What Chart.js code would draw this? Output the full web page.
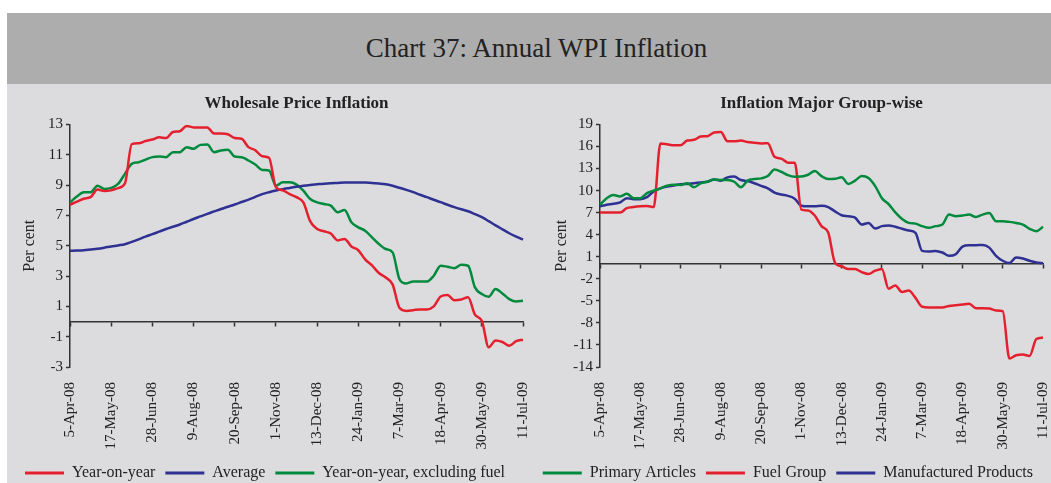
<!DOCTYPE html>
<html>
<head>
<meta charset="utf-8">
<title>Chart 37: Annual WPI Inflation</title>
<script src="https://cdn.jsdelivr.net/npm/chart.js@4.4.0/dist/chart.umd.min.js"></script>
<style>
    html, body { margin: 0; padding: 0; background: #ffffff; }
    body { width: 1051px; height: 483px; overflow: hidden; position: relative; font-family: "Liberation Serif", "Times New Roman", serif; }
    #panel { position: absolute; left: 7px; top: 13px; width: 1044px; height: 470px; background: #dcdcde; }
    #titlebar { position: absolute; left: 7px; top: 13px; width: 1029px; height: 71px; padding-left: 15px; background: #adadad; color: #222222; font-size: 27px; line-height: 71px; text-align: center; }
    .box { position: absolute; top: 84px; }
    #leftBox { left: 7px; }
    #rightBox { left: 530px; }
</style>
</head>
<body>
<div id="panel"></div>
<div id="titlebar">Chart 37: Annual WPI Inflation</div>
<div class="box" id="leftBox"><canvas id="wholesaleChart" width="523" height="407"></canvas></div>
<div class="box" id="rightBox"><canvas id="groupChart" width="521" height="407"></canvas></div>
<script>
// Weekly dates (week ended)
const weekLabels = [
    '5-Apr-08', '12-Apr-08', '19-Apr-08', '26-Apr-08', '3-May-08', '10-May-08', '17-May-08', '24-May-08', '31-May-08',
    '7-Jun-08', '14-Jun-08', '21-Jun-08', '28-Jun-08', '5-Jul-08', '12-Jul-08', '19-Jul-08', '26-Jul-08',
    '2-Aug-08', '9-Aug-08', '16-Aug-08', '23-Aug-08', '30-Aug-08', '6-Sep-08', '13-Sep-08', '20-Sep-08', '27-Sep-08',
    '4-Oct-08', '11-Oct-08', '18-Oct-08', '25-Oct-08', '1-Nov-08', '8-Nov-08', '15-Nov-08', '22-Nov-08', '29-Nov-08',
    '6-Dec-08', '13-Dec-08', '20-Dec-08', '27-Dec-08', '3-Jan-09', '10-Jan-09', '17-Jan-09', '24-Jan-09', '31-Jan-09',
    '7-Feb-09', '14-Feb-09', '21-Feb-09', '28-Feb-09', '7-Mar-09', '14-Mar-09', '21-Mar-09', '28-Mar-09',
    '4-Apr-09', '11-Apr-09', '18-Apr-09', '25-Apr-09', '2-May-09', '9-May-09', '16-May-09', '23-May-09', '30-May-09',
    '6-Jun-09', '13-Jun-09', '20-Jun-09', '27-Jun-09', '4-Jul-09', '11-Jul-09'
];

// Wholesale Price Inflation (per cent)
const yearOnYear = [
    7.7, 7.9, 8.1, 8.2, 8.7, 8.6, 8.65, 8.8, 9.1, 11.7,
    11.75, 11.9, 12.0, 12.15, 12.1, 12.5, 12.55, 12.9, 12.8, 12.8,
    12.8, 12.4, 12.4, 12.35, 12.1, 12.05, 11.5, 11.3, 10.9, 10.8,
    8.85, 8.65, 8.4, 8.2, 7.85, 6.6, 6.1, 5.95, 5.8, 5.35,
    5.45, 4.95, 4.7, 4.1, 3.7, 3.2, 2.9, 2.45, 0.9, 0.7,
    0.75, 0.8, 0.8, 1.0, 1.65, 1.75, 1.4, 1.45, 1.6, 0.45,
    0.05, -1.7, -1.25, -1.35, -1.6, -1.3, -1.2
];
const average = [
    4.67, 4.68, 4.7, 4.75, 4.8, 4.87, 4.95, 5.02, 5.1, 5.25,
    5.42, 5.6, 5.76, 5.93, 6.1, 6.25, 6.4, 6.58, 6.76, 6.93,
    7.1, 7.26, 7.42, 7.57, 7.72, 7.88, 8.04, 8.22, 8.4, 8.53,
    8.64, 8.73, 8.81, 8.89, 8.96, 9.01, 9.05, 9.09, 9.12, 9.14,
    9.16, 9.17, 9.17, 9.16, 9.14, 9.1, 9.05, 8.95, 8.82, 8.68,
    8.53, 8.36, 8.2, 8.03, 7.87, 7.7, 7.54, 7.4, 7.27, 7.08,
    6.88, 6.62, 6.34, 6.08, 5.82, 5.6, 5.4
];
const exclFuel = [
    7.86, 8.24, 8.52, 8.52, 8.96, 8.74, 8.81, 9.07, 9.74, 10.4,
    10.5, 10.68, 10.84, 10.88, 10.84, 11.17, 11.17, 11.5, 11.39, 11.65,
    11.67, 11.17, 11.28, 11.32, 10.88, 10.84, 10.62, 10.35, 10.0, 9.96,
    8.96, 9.18, 9.18, 9.03, 8.63, 8.08, 7.86, 7.75, 7.64, 7.2,
    7.36, 6.54, 6.21, 5.99, 5.55, 5.11, 4.78, 4.56, 2.8, 2.51,
    2.64, 2.64, 2.64, 3.02, 3.68, 3.61, 3.52, 3.74, 3.68, 2.25,
    1.81, 1.63, 2.14, 1.85, 1.48, 1.32, 1.37
];

// Inflation Major Group-wise (per cent)
const primaryArticles = [
    8.07, 8.97, 9.4, 9.2, 9.55, 8.97, 8.97, 9.64, 10.0, 10.3,
    10.67, 10.8, 10.76, 10.99, 10.45, 10.99, 11.2, 11.5, 11.43, 11.43,
    11.2, 10.45, 11.35, 11.57, 11.66, 11.97, 12.87, 12.56, 12.1, 11.88,
    11.9, 12.15, 12.65, 11.97, 11.57, 11.6, 11.8, 10.9, 11.35, 11.97,
    11.7, 10.6, 8.97, 8.16, 7.04, 6.14, 5.6, 5.5, 5.16, 4.93,
    5.16, 5.38, 6.73, 6.5, 6.6, 6.73, 6.4, 6.73, 6.95, 5.83,
    5.83, 5.74, 5.6, 5.38, 4.8, 4.48, 5.07
];
const fuelGroup = [
    7.0, 7.0, 7.0, 7.0, 7.6, 7.75, 7.85, 7.9, 7.75, 16.4,
    16.3, 16.15, 16.15, 16.8, 16.9, 17.35, 17.4, 17.9, 17.98, 16.7,
    16.7, 16.8, 16.6, 16.5, 16.4, 16.45, 14.6, 14.35, 13.8, 13.8,
    7.4, 7.3, 6.6, 5.16, 4.3, 0.2, -0.3, -0.67, -0.67, -1.1,
    -1.35, -0.9, -0.67, -3.36, -2.9, -3.8, -3.6, -4.6, -5.8, -5.9,
    -5.9, -5.9, -5.7, -5.6, -5.5, -5.4, -6.0, -6.0, -6.05, -6.3,
    -6.4, -12.85, -12.4, -12.3, -12.5, -10.2, -10.0
];
const manufactured = [
    7.85, 8.07, 8.2, 8.4, 8.97, 8.83, 8.83, 9.1, 9.87, 10.3,
    10.54, 10.67, 10.85, 10.9, 11.0, 11.1, 11.2, 11.5, 11.35, 11.8,
    11.9, 11.43, 11.3, 11.0, 10.63, 10.3, 9.73, 9.46, 9.28, 8.9,
    7.94, 7.85, 7.85, 7.94, 7.76, 7.17, 6.64, 6.5, 6.32, 5.38,
    5.6, 4.84, 5.16, 5.25, 5.07, 4.8, 4.57, 4.26, 1.79, 1.7,
    1.79, 1.57, 1.12, 1.35, 2.38, 2.56, 2.56, 2.6, 2.24, 1.12,
    0.45, 0.13, 0.9, 0.76, 0.45, 0.22, 0.13
];

const RED = '#e5202e';
const BLUE = '#2e3192';
const GREEN = '#008a3e';
const FONT = '"Liberation Serif", "Times New Roman", serif';
const TEXT_COLOR = '#222222';
const AXIS_COLOR = '#333333';

Chart.defaults.font.family = FONT;
Chart.defaults.color = TEXT_COLOR;

// keep a tick every six weeks
function everySixthWeek(axis) {
    axis.ticks = axis.ticks.filter(t => t.value % 6 === 0);
}

function buildChart(canvasId, title, series, yRange, axisWidth, axisTitlePad, rightPad, legendAlign) {
    const ctx = document.getElementById(canvasId).getContext('2d');
    return new Chart(ctx, {
        type: 'line',
        data: {
            labels: weekLabels,
            datasets: series.map(s => ({
                label: s.label,
                data: s.data,
                borderColor: s.color,
                backgroundColor: s.color,
                borderWidth: 2.5,
                pointRadius: 0,
                cubicInterpolationMode: 'monotone',
                fill: false
            }))
        },
        options: {
            responsive: false,
            animation: false,
            layout: { padding: { left: 0, right: rightPad, top: 0, bottom: 0 } },
            plugins: {
                title: {
                    display: true,
                    text: title,
                    fullSize: false,
                    color: TEXT_COLOR,
                    font: { family: FONT, size: 17, weight: 'bold' },
                    padding: { top: 9, bottom: 11 }
                },
                legend: {
                    position: 'bottom',
                    align: legendAlign,
                    labels: {
                        color: TEXT_COLOR,
                        font: { family: FONT, size: 16 },
                        boxWidth: 39,
                        boxHeight: 3,
                        padding: 10,
                        generateLabels: chart => Chart.defaults.plugins.legend.labels.generateLabels(chart)
                            .map(item => ({ ...item, lineWidth: 0 }))
                    }
                },
                tooltip: { enabled: false }
            },
            scales: {
                x: {
                    type: 'category',
                    position: 'bottom',
                    afterBuildTicks: everySixthWeek,
                    afterFit: scale => {
                        scale.height = 88;
                        scale.paddingLeft = 0;
                        scale.paddingRight = 0;
                    },
                    grid: { display: false, drawTicks: false },
                    border: { display: false },
                    ticks: {
                        autoSkip: false,
                        minRotation: 90,
                        maxRotation: 90,
                        padding: 15,
                        color: TEXT_COLOR,
                        font: { family: FONT, size: 15 }
                    }
                },
                xZero: {
                    type: 'category',
                    axis: 'x',
                    position: { y: 0 },
                    afterBuildTicks: everySixthWeek,
                    grid: {
                        drawOnChartArea: false,
                        drawTicks: true,
                        tickLength: 4,
                        tickColor: AXIS_COLOR,
                        tickWidth: 1.5
                    },
                    border: { display: true, color: AXIS_COLOR, width: 1.5 },
                    ticks: { display: false }
                },
                y: {
                    min: yRange.min,
                    max: yRange.max,
                    afterFit: scale => { scale.width = axisWidth; },
                    ticks: {
                        stepSize: yRange.step,
                        autoSkip: false,
                        padding: 3,
                        color: TEXT_COLOR,
                        font: { family: FONT, size: 15 }
                    },
                    grid: {
                        drawOnChartArea: false,
                        drawTicks: true,
                        tickLength: 4,
                        tickColor: AXIS_COLOR,
                        tickWidth: 1.5
                    },
                    border: { display: true, color: AXIS_COLOR, width: 1.5 },
                    title: {
                        display: true,
                        text: 'Per cent',
                        color: TEXT_COLOR,
                        font: { family: FONT, size: 16 },
                        padding: { top: axisTitlePad, bottom: 0 }
                    }
                }
            }
        }
    });
}

document.addEventListener('DOMContentLoaded', () => {
    buildChart('wholesaleChart', 'Wholesale Price Inflation', [
        { label: 'Year-on-year', data: yearOnYear, color: RED },
        { label: 'Average', data: average, color: BLUE },
        { label: 'Year-on-year, excluding fuel', data: exclFuel, color: GREEN }
    ], { min: -3, max: 13, step: 2 }, 63, 13, 7, 'center');

    buildChart('groupChart', 'Inflation Major Group-wise', [
        { label: 'Primary Articles', data: primaryArticles, color: GREEN },
        { label: 'Fuel Group', data: fuelGroup, color: RED },
        { label: 'Manufactured Products', data: manufactured, color: BLUE }
    ], { min: -14, max: 19, step: 3 }, 70, 22, 8, 'end');
});
</script>
</body>
</html>
